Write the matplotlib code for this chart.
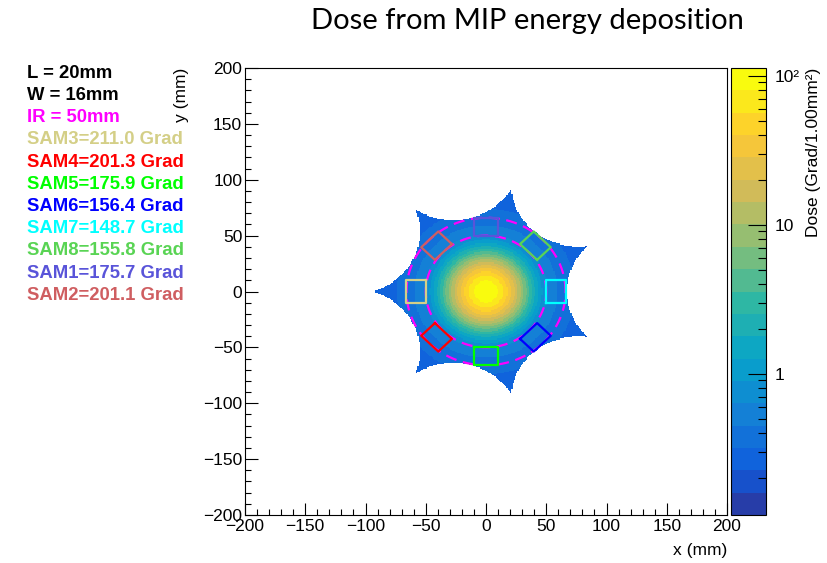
import numpy as np
import matplotlib
matplotlib.use("Agg")
import matplotlib.pyplot as plt
from matplotlib.colors import ListedColormap, BoundaryNorm, LinearSegmentedColormap

plt.rcParams['font.family'] = ['Liberation Sans', 'DejaVu Sans']

# Sensor boxes (SAM), in legend order
sam_names = ["SAM3", "SAM4", "SAM5", "SAM6", "SAM7", "SAM8", "SAM1", "SAM2"]
sam_dose = [211.0, 201.3, 175.9, 156.4, 148.7, 155.8, 175.7, 201.1]
sam_angle = [180, 225, 270, 315, 0, 45, 90, 135]
sam_color = ["#d4cf87", "#ff0000", "#00ff00", "#0000ff", "#00ffff", "#59d454", "#5954d9", "#cf5e61"]

box_L = 20.0   # mm, tangential
box_W = 16.0   # mm, radial
inner_r = 50.0  # IR

# dose map parameters
peak = 111.0
core_scale = 17.4
core_power = 1.8
tail_B = 2277.0
tail_c2 = 1697.0
z_max = 112.6
n_contours = 20

# star-shaped outline: 7 lobes, one pointing at 180 deg
n_lobes = 7
tip_r = 94.0
valley_r = 67.0

# ROOT kBird palette
bird_stops = [0.0, 0.125, 0.25, 0.375, 0.5, 0.625, 0.75, 0.875, 1.0]
bird_r = [0.2082, 0.0592, 0.0780, 0.0232, 0.1802, 0.5301, 0.8186, 0.9956, 0.9764]
bird_g = [0.1664, 0.3599, 0.5041, 0.6419, 0.7178, 0.7492, 0.7328, 0.7862, 0.9832]
bird_b = [0.5293, 0.8684, 0.8385, 0.7914, 0.6425, 0.4662, 0.3499, 0.1968, 0.0539]

bird = LinearSegmentedColormap.from_list(
    "bird", list(zip(bird_stops, zip(bird_r, bird_g, bird_b))), N=255)
band_pos = [int((i + 0.99) * 255 / n_contours) / 254 for i in range(n_contours)]
cmap = ListedColormap([bird(p) for p in band_pos])
levels = z_max * 10 ** np.linspace(-3, 0, n_contours + 1)
norm = BoundaryNorm(levels, cmap.N)

# dose histogram, 1 mm bins
edges = np.arange(-200, 201, 1.0)
xc = 0.5 * (edges[1:] + edges[:-1])
X, Y = np.meshgrid(xc, xc)
R = np.hypot(X, Y)
dose = peak * np.exp(-(R / core_scale) ** core_power) + tail_B / (R**2 + tail_c2)

# outline: disk of radius tip_r minus 7 circles centred between the lobes
half = np.pi / n_lobes
D = (tip_r**2 - valley_r**2) / (2 * tip_r * np.cos(half) - 2 * valley_r)
rc = D - valley_r
inside = R <= tip_r
for k in range(n_lobes):
    a = np.pi + half + 2 * half * k
    inside &= np.hypot(X - D * np.cos(a), Y - D * np.sin(a)) > rc
dose = np.ma.masked_where(~inside, dose)

fig = plt.figure(figsize=(8.27, 5.63), dpi=100)
ax = fig.add_axes([245 / 827, 48 / 563, 482 / 827, 447 / 563])
cax = fig.add_axes([731 / 827, 48 / 563, 35 / 827, 447 / 563])

mesh = ax.pcolormesh(edges, edges, dose, cmap=cmap, norm=norm, rasterized=True)

# dashed circles at IR and IR+W
t = np.linspace(0, 2 * np.pi, 400)
for rr in [inner_r, inner_r + box_W]:
    ax.plot(rr * np.cos(t), rr * np.sin(t), color="#ff00ff", lw=1.6,
            linestyle=(0, (5, 3)))

# boxes
rmid = inner_r + box_W / 2
for ang, col in zip(sam_angle, sam_color):
    a = np.deg2rad(ang)
    er = np.array([np.cos(a), np.sin(a)])
    et = np.array([-np.sin(a), np.cos(a)])
    c = rmid * er
    corners = np.array([c + sr * box_W / 2 * er + st * box_L / 2 * et
                        for sr, st in [(-1, -1), (-1, 1), (1, 1), (1, -1), (-1, -1)]])
    ax.plot(corners[:, 0], corners[:, 1], color=col, lw=1.6)

ax.set_xlim(-200, 200)
ax.set_ylim(-200, 200)
ax.set_xticks(np.arange(-200, 201, 50))
ax.set_yticks(np.arange(-200, 201, 50))
ax.set_xticks(np.arange(-200, 201, 10), minor=True)
ax.set_yticks(np.arange(-200, 201, 10), minor=True)
ax.tick_params(which="both", direction="in", labelsize=12.5, top=False, right=False)
ax.tick_params(which="major", length=9, width=0.8)
ax.tick_params(which="minor", length=4.5, width=0.8)
ax.tick_params(axis="x", pad=3)
ax.tick_params(axis="y", pad=2)
ax.set_xlabel("x (mm)", fontsize=12.5, loc="right", labelpad=6)
ax.set_ylabel("y (mm)", fontsize=12.5, loc="top", labelpad=10)

cb = fig.colorbar(mesh, cax=cax)
cax.set_yscale("log")
cax.set_ylim(levels[0], levels[-1])
cb.outline.set_linewidth(0.8)
cax.set_yticks([1, 10, 100])
cax.set_yticklabels(["1", "10", "10²"])
minor = [m * 10.0**e for e in [-1, 0, 1] for m in range(2, 10)]
cax.set_yticks([v for v in minor if levels[0] <= v <= levels[-1]], minor=True)
cax.yaxis.set_minor_formatter(plt.NullFormatter())
cax.tick_params(which="both", direction="in", right=True, left=False, labelsize=12.5, pad=6)
cax.tick_params(which="major", length=13, width=0.8)
cax.tick_params(which="minor", length=6, width=0.8)
cax.set_ylabel("Dose (Grad/1.00mm²)", fontsize=12.5, loc="top", labelpad=5)

fig.text(527 / 827, 1 - 21 / 563, "Dose from MIP energy deposition",
         fontsize=21, family=["Lato", "DejaVu Sans"], ha="center", va="center")

# legend text
lines = [("L = 20mm", "black"), ("W = 16mm", "black"), ("IR = 50mm", "#ff00ff")]
lines += [(f"{n}={d:.1f} Grad", c) for n, d, c in zip(sam_names, sam_dose, sam_color)]
for i, (txt, col) in enumerate(lines):
    fig.text(27 / 827, 1 - (73.3 + 22.2 * i) / 563, txt, color=col,
             fontsize=13.3, fontweight="bold", ha="left", va="center")

fig.savefig("out.png", dpi=100)
